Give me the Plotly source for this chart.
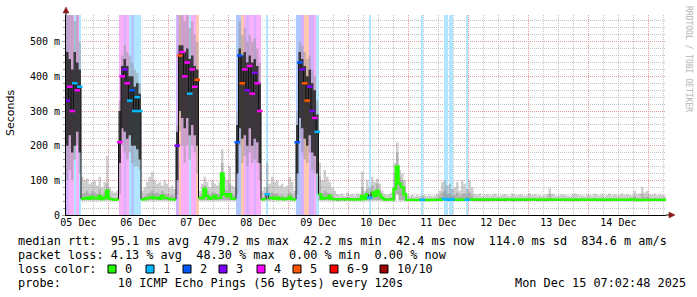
import pandas as pd
import plotly.graph_objects as go

# ---------------- data (hourly samples) ----------------
START = "2025-12-05 07:03"
HOURS = 240
Y_TOP = 577

# median rtt (ms) per hour
MED = [
    330, 370, 300, 380, 360, 370,
    46, 48, 50, 47, 52, 49, 48, 55, 46, 50, 70, 47, 45, 44, 45,
    210, 400, 420, 380, 330, 360, 300, 340, 300,
    45, 46, 48, 50, 52, 48, 50, 47, 55, 50, 48, 46, 47, 45,
    200, 460, 470, 400, 440, 350, 420, 370, 390,
    50, 48, 75, 55, 47, 50, 55, 48, 50, 120, 60, 55, 60, 48, 46,
    210, 460, 380, 420, 360, 430, 350, 410, 380, 300,
    45, 46, 60, 48, 50, 47, 50, 46, 48, 45, 47, 52, 46, 45,
    210, 440, 420, 380, 330, 370, 300, 280, 240,
    60, 47, 50, 48, 55, 46, 45,
    44, 44, 45, 44, 46, 44, 45, 44, 46, 45,
    55, 46, 60, 50, 65, 55, 70, 58, 50,
    45, 44, 46, 45,
    75, 140, 90, 80, 60,
    44, 43, 43, 44, 43, 43, 44, 43, 43, 44, 43, 43, 44, 45, 44, 46, 45, 44, 45, 44, 43, 44, 43, 44, 44,
    45, 44, 43, 44, 43, 44, 43, 43, 44, 43,
    44, 43, 43, 44, 43, 44, 44, 43, 43, 44,
    43, 44, 43, 43, 44, 45, 44, 43, 43, 44,
    43, 43, 44, 43, 44, 43, 43, 44, 43, 43,
    44, 43, 44, 43, 43, 44, 43, 44, 43, 43,
    44, 43, 43, 44, 43, 43, 44, 43, 44, 43,
    43, 44, 43, 43, 44, 46, 44, 43, 44, 43,
    43, 44, 43, 44, 43, 44, 43, 43, 44,
]

# lowest ping of the smoke per hour
LO = [
    100, 130, 100, 160, 200, 120,
    42, 42, 42, 42, 42, 42, 42, 42, 42, 42, 42, 42, 42, 42, 42,
    60, 200, 180, 160, 180, 150, 140, 140, 130,
    42, 42, 42, 42, 42, 42, 42, 42, 42, 42, 42, 42, 42, 42,
    60, 240, 200, 150, 200, 160, 200, 180, 120,
    42, 42, 42, 42, 42, 42, 42, 42, 42, 42, 42, 42, 42, 42, 42,
    60, 200, 150, 170, 140, 180, 150, 160, 150, 100,
    42, 42, 42, 42, 42, 42, 42, 42, 42, 42, 42, 42, 42, 42,
    60, 220, 180, 160, 150, 180, 130, 120, 60,
    42, 42, 42, 42, 42, 42, 42,
    42, 42, 42, 42, 42, 42, 42, 42, 42, 42,
    42, 42, 42, 42, 42, 42, 42, 42, 42,
    42, 42, 42, 42,
    42, 60, 42, 42, 42,
    42, 42, 42, 42, 42, 42, 42, 42, 42, 42, 42, 42, 42, 42, 42, 42, 42, 42, 42, 42, 42, 42, 42, 42, 42,
    42, 42, 42, 42, 42, 42, 42, 42, 42, 42,
    42, 42, 42, 42, 42, 42, 42, 42, 42, 42,
    42, 42, 42, 42, 42, 42, 42, 42, 42, 42,
    42, 42, 42, 42, 42, 42, 42, 42, 42, 42,
    42, 42, 42, 42, 42, 42, 42, 42, 42, 42,
    42, 42, 42, 42, 42, 42, 42, 42, 42, 42,
    42, 42, 42, 42, 42, 42, 42, 42, 42, 42,
    42, 42, 42, 42, 42, 42, 42, 42, 42,
]

# highest ping of the smoke per hour
HI = [
    577, 577, 577, 560, 577, 500,
    110, 100, 105, 90, 95, 100, 85, 110, 80, 95, 170, 80, 70, 65, 70,
    330, 460, 490, 470, 460, 440, 420, 410, 380,
    70, 80, 95, 110, 125, 100, 90, 95, 85, 100, 90, 80, 85, 75,
    260, 577, 577, 560, 577, 540, 560, 520, 500,
    70, 90, 110, 95, 80, 100, 90, 85, 95, 190, 110, 100, 140, 85, 80,
    300, 560, 520, 540, 500, 520, 500, 510, 480, 440,
    70, 80, 150, 90, 110, 95, 100, 85, 90, 80, 85, 110, 95, 70,
    300, 500, 490, 470, 450, 460, 420, 400, 330,
    150, 100, 130, 110, 95, 80, 70,
    60, 58, 62, 55, 65, 58, 60, 56, 62, 60,
    125, 70, 102, 80, 110, 95, 105, 90, 70,
    60, 58, 62, 65,
    150, 210, 130, 120, 100,
    56, 55, 58, 54, 57, 55, 58, 56, 55, 57, 54, 56, 60, 70, 95, 100, 85, 90, 75, 80, 95, 70, 100, 90, 75,
    100, 80, 60, 58, 62, 55, 57, 60, 56, 58,
    62, 56, 55, 58, 60, 57, 55, 62, 58, 56,
    60, 58, 55, 57, 62, 58, 60, 56, 58, 55,
    57, 60, 77, 62, 58, 55, 57, 60, 58, 56,
    55, 58, 62, 60, 56, 57, 55, 60, 58, 56,
    62, 58, 56, 60, 55, 58, 62, 57, 60, 56,
    58, 62, 57, 60, 58, 56, 70, 60, 62, 80,
    65, 70, 60, 58, 62, 56, 60, 58, 55,
]

# dense (darker) part of the smoke: bottom and top per hour
DENSE_LO = [
    200, 230, 180, 200, 240, 180,
    42, 42, 42, 42, 42, 42, 42, 42, 42, 42, 42, 42, 42, 42, 42,
    150, 250, 240, 220, 230, 200, 200, 190, 160,
    42, 42, 42, 42, 42, 42, 42, 42, 42, 42, 42, 42, 42, 42,
    100, 300, 280, 250, 280, 230, 260, 230, 200,
    42, 42, 42, 42, 42, 42, 42, 42, 42, 42, 42, 42, 42, 42, 42,
    120, 250, 220, 230, 200, 250, 200, 220, 210, 150,
    42, 42, 42, 42, 42, 42, 42, 42, 42, 42, 42, 42, 42, 42,
    120, 280, 250, 220, 200, 230, 180, 170, 120,
    42, 42, 42, 42, 42, 42, 42,
    42, 42, 42, 42, 42, 42, 42, 42, 42, 42,
    42, 42, 42, 42, 42, 42, 42, 42, 42,
    42, 42, 42, 42,
    42, 60, 42, 42, 42,
    42, 42, 42, 42, 42, 42, 42, 42, 42, 42, 42, 42, 42, 42, 42, 42, 42, 42, 42, 42, 42, 42, 42, 42, 42,
    42, 42, 42, 42, 42, 42, 42, 42, 42, 42,
    42, 42, 42, 42, 42, 42, 42, 42, 42, 42,
    42, 42, 42, 42, 42, 42, 42, 42, 42, 42,
    42, 42, 42, 42, 42, 42, 42, 42, 42, 42,
    42, 42, 42, 42, 42, 42, 42, 42, 42, 42,
    42, 42, 42, 42, 42, 42, 42, 42, 42, 42,
    42, 42, 42, 42, 42, 42, 42, 42, 42, 42,
    42, 42, 42, 42, 42, 42, 42, 42, 42,
]

DENSE_HI = [
    470, 450, 420, 470, 440, 420,
    60, 65, 70, 60, 70, 65, 60, 75, 55, 65, 90, 55, 50, 48, 50,
    300, 430, 450, 430, 400, 400, 370, 380, 350,
    52, 55, 60, 65, 70, 62, 65, 60, 70, 62, 60, 55, 58, 52,
    240, 490, 490, 470, 480, 450, 460, 430, 420,
    55, 60, 85, 70, 55, 65, 65, 60, 62, 150, 75, 70, 90, 60, 55,
    260, 480, 460, 470, 440, 460, 440, 450, 430, 380,
    50, 55, 80, 58, 65, 60, 62, 55, 58, 52, 55, 65, 58, 50,
    260, 470, 450, 430, 400, 420, 380, 360, 290,
    110, 60, 70, 65, 62, 55, 50,
    48, 47, 50, 46, 52, 47, 48, 46, 50, 48,
    80, 52, 75, 58, 85, 70, 90, 70, 55,
    48, 47, 50, 52,
    120, 180, 110, 100, 80,
    47, 46, 48, 46, 47, 46, 48, 47, 46, 47, 46, 47, 50, 55, 65, 70, 60, 62, 55, 58, 65, 55, 60, 62, 55,
    65, 55, 48, 47, 49, 46, 47, 48, 46, 47,
    49, 46, 46, 47, 48, 47, 46, 49, 47, 46,
    48, 47, 46, 47, 49, 47, 48, 46, 47, 46,
    47, 48, 60, 49, 47, 46, 47, 48, 47, 46,
    46, 47, 49, 48, 46, 47, 46, 48, 47, 46,
    49, 47, 46, 48, 46, 47, 49, 47, 48, 46,
    47, 49, 47, 48, 47, 46, 55, 48, 49, 60,
    52, 55, 48, 47, 49, 46, 48, 47, 46,
]

# lost pings out of 10 per hour
LOSS = [
    3, 4, 4, 1, 4, 1,
    0, 0, 0, 0, 0, 0, 0, 0, 0, 0, 0, 0, 0, 0, 0,
    4, 4, 3, 4, 1, 2, 1, 1, 1,
    0, 0, 0, 0, 0, 0, 0, 0, 0, 0, 0, 0, 0, 0,
    3, 5, 4, 4, 4, 1, 4, 4, 5,
    0, 0, 0, 0, 0, 0, 0, 0, 0, 0, 0, 0, 0, 0, 0,
    2, 2, 5, 4, 3, 4, 4, 3, 4, 4,
    0, 0, 1, 0, 0, 0, 0, 0, 0, 0, 0, 0, 0, 0,
    2, 2, 3, 5, 5, 3, 3, 4, 1,
    0, 0, 0, 0, 0, 0, 0, 0, 0, 0, 0, 0, 0, 0, 0, 0, 0, 0, 0, 0,
    1,
    0, 0, 0, 0, 0, 0, 0, 0, 0, 0, 0, 0, 0, 0, 0, 0, 0, 0, 0, 0,
    1,
    0, 0, 0, 0, 0, 0, 0, 0,
    1, 1, 1, 1,
    0, 0, 0, 0, 0,
    1,
    0, 0, 0, 0, 0, 0, 0, 0, 0, 0, 0, 0, 0, 0, 0, 0, 0, 0, 0, 0,
    0, 0, 0, 0, 0, 0, 0, 0, 0, 0, 0, 0, 0, 0, 0, 0, 0, 0, 0, 0,
    0, 0, 0, 0, 0, 0, 0, 0, 0, 0, 0, 0, 0, 0, 0, 0, 0, 0, 0, 0,
    0, 0, 0, 0, 0, 0, 0, 0, 0, 0, 0, 0, 0, 0, 0, 0, 0, 0, 0,
]

LOSS_LABELS = ["0", "1", "2", "3", "4", "5", "6-9", "10/10"]
LOSS_COLORS = ["#26ff00", "#00b8ff", "#0059ff", "#7e00ff", "#ff00ff", "#ff5500", "#ff0000", "#a10000"]
BAND_COLORS = ["#ffffff", "#b0e6ff", "#b0c8ff", "#d4b0ff", "#f8b0f8", "#ffc8b0", "#ffb0b0", "#e4b0b0"]

Y_TICKS = [0, 100, 200, 300, 400, 500]
Y_TICK_TEXT = ["0", "100 m", "200 m", "300 m", "400 m", "500 m"]
DAY_LABELS = ["05 Dec", "06 Dec", "07 Dec", "08 Dec", "09 Dec", "10 Dec", "11 Dec", "12 Dec", "13 Dec", "14 Dec"]

LEGEND_LINE1 = "median rtt:  95.1 ms avg  479.2 ms max  42.2 ms min  42.4 ms now  114.0 ms sd  834.6 m am/s"
LEGEND_LINE2 = "packet loss: 4.13 % avg  48.30 % max  0.00 % min  0.00 % now"
LEGEND_LINE3 = "loss color:"
LEGEND_LINE4 = "probe:        10 ICMP Echo Pings (56 Bytes) every 120s"
STAMP = "Mon Dec 15 07:02:48 2025"
WATERMARK = "RRDTOOL / TOBI OETIKER"

# ---------------- geometry helpers ----------------
L, T, W, H = 66, 15, 600, 200
FIG_W, FIG_H = 697, 297


def px(xp):
    return (xp - L) / W


def py(yp):
    return (T + H - yp) / H


def loss_idx(v):
    if v <= 5:
        return v
    if v < 10:
        return 6
    return 7


edges = pd.date_range(START, periods=HOURS + 1, freq="h")
centers = edges[:-1] + pd.Timedelta(minutes=30)
x_edges = [d.strftime("%Y-%m-%d %H:%M") for d in edges]
x_centers = [d.strftime("%Y-%m-%d %H:%M") for d in centers]


def step(vals):
    return list(vals) + [vals[-1]]


busy = [m >= 150 for m in MED]

fig = go.Figure()

# loss background bands
bx, bw, bc = [], [], []
for i in range(HOURS):
    if LOSS[i] > 0:
        bx.append(x_centers[i])
        bw.append(3600e3 * (1.0 if busy[i] else 0.45))
        bc.append(BAND_COLORS[loss_idx(LOSS[i])])
fig.add_trace(go.Bar(x=bx, y=[Y_TOP] * len(bx), width=bw, marker=dict(color=bc, line=dict(width=0)),
                     hoverinfo="skip"))

# light smoke
fig.add_trace(go.Scatter(x=x_edges, y=step(LO), mode="lines", line=dict(width=0, shape="hv"), hoverinfo="skip"))
fig.add_trace(go.Scatter(x=x_edges, y=step(HI), mode="lines", line=dict(width=0, shape="hv"), fill="tonexty",
                         fillcolor="rgba(140,140,140,0.42)", hoverinfo="skip"))

# dense smoke, quiet hours (mid grey)
q_lo = [DENSE_LO[i] if not busy[i] else 0 for i in range(HOURS)]
q_hi = [DENSE_HI[i] if not busy[i] else 0 for i in range(HOURS)]
fig.add_trace(go.Scatter(x=x_edges, y=step(q_lo), mode="lines", line=dict(width=0, shape="hv"), hoverinfo="skip"))
fig.add_trace(go.Scatter(x=x_edges, y=step(q_hi), mode="lines", line=dict(width=0, shape="hv"), fill="tonexty",
                         fillcolor="rgba(120,120,120,0.35)", hoverinfo="skip"))

# dense smoke, busy hours (dark)
b_lo = [DENSE_LO[i] if busy[i] else 0 for i in range(HOURS)]
b_hi = [DENSE_HI[i] if busy[i] else 0 for i in range(HOURS)]
fig.add_trace(go.Scatter(x=x_edges, y=step(b_lo), mode="lines", line=dict(width=0, shape="hv"), hoverinfo="skip"))
fig.add_trace(go.Scatter(x=x_edges, y=step(b_hi), mode="lines", line=dict(width=0, shape="hv"), fill="tonexty",
                         fillcolor="rgba(35,35,35,0.85)", hoverinfo="skip"))

# median (black base line)
fig.add_trace(go.Scatter(x=x_edges, y=step(MED), mode="lines", line=dict(width=1, shape="hv", color="#111111"),
                         hoverinfo="skip"))

# median, green where no loss (each quiet hour drawn as its own step)
gx, gy = [], []
for i in range(HOURS):
    if LOSS[i] == 0:
        if i == 0 or LOSS[i - 1] != 0:
            if gx:
                gx.append(None)
                gy.append(None)
        gx += [x_edges[i], x_edges[i + 1]]
        gy += [MED[i], MED[i]]
fig.add_trace(go.Scatter(x=gx, y=gy, mode="lines", line=dict(width=2.5, color=LOSS_COLORS[0]),
                         connectgaps=False, hoverinfo="skip"))

# median with loss: coloured marks
mx = [x_centers[i] for i in range(HOURS) if LOSS[i] > 0]
my = [MED[i] for i in range(HOURS) if LOSS[i] > 0]
mc = [LOSS_COLORS[loss_idx(LOSS[i])] for i in range(HOURS) if LOSS[i] > 0]
fig.add_trace(go.Scatter(x=mx, y=my, mode="markers",
                         marker=dict(symbol="line-ew-open", size=4, color=mc, line=dict(width=2.5, color=mc)),
                         hoverinfo="skip"))

# helper trace for label axis
fig.add_trace(go.Scatter(x=[x_edges[0]], y=[None], xaxis="x2", mode="lines", hoverinfo="skip"))

midnights = pd.date_range("2025-12-06", "2025-12-15", freq="D")
noons = pd.date_range("2025-12-05 12:00", "2025-12-14 12:00", freq="D")
six_h = [d for d in pd.date_range("2025-12-05 12:00", "2025-12-15 06:00", freq="6h") if d.hour != 0]
fmt = lambda seq: [d.strftime("%Y-%m-%d %H:%M") for d in seq]

GRID_MAJ = "#e89a9a"
GRID_MIN = "#c4c4c4"
DOTS = "1px,1px"

fig.update_layout(
    width=FIG_W, height=FIG_H,
    margin=dict(l=L, r=FIG_W - L - W, t=T, b=FIG_H - T - H, pad=0),
    paper_bgcolor="white", plot_bgcolor="white",
    showlegend=False, barmode="overlay", bargap=0,
    font=dict(family="DejaVu Sans Mono", size=10, color="black"),
    xaxis=dict(
        type="date", range=[x_edges[0], x_edges[-1]],
        tickmode="array", tickvals=fmt(midnights), showticklabels=False,
        showgrid=True, gridcolor=GRID_MAJ, griddash=DOTS, gridwidth=1,
        ticks="", showline=True, linecolor="black", linewidth=1, zeroline=False,
        minor=dict(tickmode="array", tickvals=fmt(six_h), showgrid=True, gridcolor=GRID_MIN,
                   griddash=DOTS, gridwidth=1, ticks=""),
        layer="above traces",
    ),
    xaxis2=dict(
        type="date", overlaying="x", matches="x", anchor="y", side="bottom",
        tickmode="array", tickvals=fmt(noons), ticktext=DAY_LABELS,
        showgrid=False, ticks="", showline=False, zeroline=False,
        tickfont=dict(family="DejaVu Sans Mono", size=10, color="black"),
    ),
    yaxis=dict(
        range=[0, Y_TOP], tickmode="array", tickvals=Y_TICKS, ticktext=Y_TICK_TEXT,
        showgrid=True, gridcolor=GRID_MAJ, griddash=DOTS, gridwidth=1,
        ticks="outside", ticklen=3, tickcolor="#999999",
        showline=True, linecolor="black", linewidth=1, zeroline=False,
        tickfont=dict(family="DejaVu Sans Mono", size=10, color="black"),
        minor=dict(tickmode="array", tickvals=[v for v in range(20, Y_TOP, 20) if v % 100], showgrid=True,
                   gridcolor=GRID_MIN, griddash=DOTS, gridwidth=1, ticks="outside", ticklen=2,
                   tickcolor="#999999"),
        layer="above traces",
    ),
)

shapes = []
# axis extensions and arrow heads
shapes.append(dict(type="line", xref="paper", yref="paper", x0=px(666), x1=px(671), y0=py(215), y1=py(215),
                   line=dict(color="black", width=1)))
shapes.append(dict(type="path", xref="paper", yref="paper",
                   path=f"M {px(669)} {py(212)} L {px(675)} {py(215)} L {px(669)} {py(218)} Z",
                   fillcolor="#8b1a1a", line=dict(color="#8b1a1a", width=0.5)))
shapes.append(dict(type="line", xref="paper", yref="paper", x0=px(66), x1=px(66), y0=py(15), y1=py(11),
                   line=dict(color="black", width=1)))
shapes.append(dict(type="path", xref="paper", yref="paper",
                   path=f"M {px(63)} {py(13)} L {px(66)} {py(7)} L {px(69)} {py(13)} Z",
                   fillcolor="#8b1a1a", line=dict(color="#8b1a1a", width=0.5)))

annotations = []
LEG_FONT = dict(family="DejaVu Sans Mono", size=11.85, color="black")


def text(xp, yp, s, **kw):
    d = dict(x=px(xp), y=py(yp), xref="paper", yref="paper", text=s, showarrow=False,
             xanchor="left", yanchor="middle", font=LEG_FONT)
    d.update(kw)
    annotations.append(d)


text(16, 241, LEGEND_LINE1.replace(" ", "&nbsp;"))
text(16, 255, LEGEND_LINE2.replace(" ", "&nbsp;"))
text(16, 269, LEGEND_LINE3)
text(16, 283, LEGEND_LINE4.replace(" ", "&nbsp;"))
text(513, 283, STAMP.replace(" ", "&nbsp;"))

SQ_X = [108, 146, 183, 219, 257, 293, 330, 380]
for i, (lab, col) in enumerate(zip(LOSS_LABELS, LOSS_COLORS)):
    x0 = SQ_X[i]
    shapes.append(dict(type="rect", xref="paper", yref="paper", x0=px(x0), x1=px(x0 + 8),
                       y0=py(273), y1=py(265), fillcolor=col, line=dict(color="black", width=1)))
    text(x0 + 15, 269, lab)

# y axis title
annotations.append(dict(x=px(10), y=py(113), xref="paper", yref="paper", text="Seconds", showarrow=False,
                        textangle=-90, xanchor="center", yanchor="middle",
                        font=dict(family="DejaVu Sans", size=11, color="black")))
# watermark
annotations.append(dict(x=px(688), y=py(59), xref="paper", yref="paper", text=WATERMARK.replace(" ", "&nbsp;"),
                        showarrow=False, textangle=90, xanchor="center", yanchor="middle",
                        font=dict(family="DejaVu Sans Mono", size=8, color="#b4b4b4")))

fig.update_layout(shapes=shapes, annotations=annotations)
fig.write_html("out.html")
